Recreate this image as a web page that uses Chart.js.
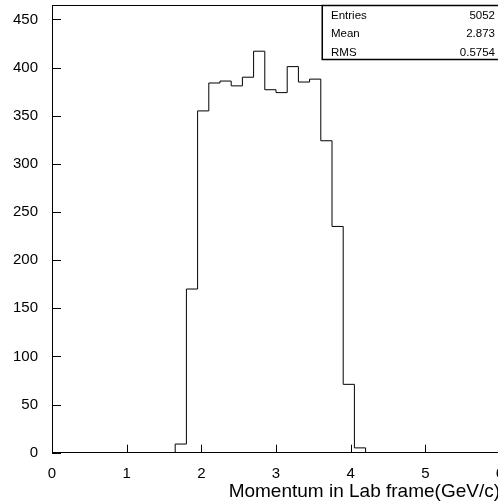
<!DOCTYPE html>
<html>
<head>
<meta charset="utf-8">
<script src="https://cdn.jsdelivr.net/npm/chart.js@4/dist/chart.umd.min.js"></script>
<style>
  html, body { margin: 0; padding: 0; background: #fff; overflow: hidden; }
  #wrap { position: absolute; left: 0; top: 0; width: 520px; height: 504px; }
</style>
</head>
<body>
<div id="wrap"><canvas id="c" width="520" height="504"></canvas></div>
<script>
// ---- data ----
const binEdges = [1.65, 1.80, 1.95, 2.10, 2.25, 2.40, 2.55, 2.70, 2.85, 3.00, 3.15, 3.30, 3.45, 3.60, 3.75, 3.90, 4.05, 4.20];
const counts   = [9, 170, 355, 384, 386, 381, 390, 417, 377, 374, 401, 385, 388, 324, 235, 71, 5];
const xTickValues = [0, 1, 2, 3, 4, 5, 6];
const yTickValues = [0, 50, 100, 150, 200, 250, 300, 350, 400, 450];
const xTitle = 'Momentum in Lab frame(GeV/c)';
const statLabels = ['Entries', 'Mean', 'RMS'];
const statValues = ['5052', '2.873', '0.5754'];

// histogram outline as stepped points
const pts = [{x: binEdges[0], y: 0}];
counts.forEach((c, i) => pts.push({x: binEdges[i], y: c}));
pts.push({x: binEdges[binEdges.length - 1], y: 0});

const FONT = "'Liberation Sans', Arial, Helvetica, sans-serif";

const frameTicks = {
  id: 'frameTicks',
  afterDatasetsDraw(chart) {
    const {ctx, chartArea: a, scales: {x, y}} = chart;
    ctx.save();
    ctx.strokeStyle = '#000';
    ctx.lineWidth = 1;
    ctx.beginPath();
    yTickValues.forEach(v => {
      const py = Math.round(y.getPixelForValue(v)) + 0.5;
      ctx.moveTo(a.left, py); ctx.lineTo(a.left + 9, py);
    });
    xTickValues.forEach(v => {
      const px = Math.round(x.getPixelForValue(v)) + 0.5;
      ctx.moveTo(px, a.bottom); ctx.lineTo(px, a.bottom - 8);
    });
    ctx.moveTo(a.left, Math.round(a.top) + 0.5); ctx.lineTo(a.right, Math.round(a.top) + 0.5);
    ctx.moveTo(Math.round(a.right) - 0.5, a.top); ctx.lineTo(Math.round(a.right) - 0.5, a.bottom);
    ctx.stroke();

    // statistics box
    const bx = 322, by = Math.round(a.top), bw = 200, bh = 54;
    ctx.fillStyle = '#fff';
    ctx.fillRect(bx, by, bw, bh);
    ctx.lineWidth = 1.5;
    ctx.strokeRect(bx + 0.25, by + 0.5, bw, bh);
    ctx.fillStyle = '#000';
    ctx.font = '11.5px ' + FONT;
    ctx.textBaseline = 'alphabetic';
    statLabels.forEach((s, i) => {
      const ty = 19 + i * 18.3;
      ctx.textAlign = 'left';
      ctx.fillText(s, 331, ty);
      ctx.textAlign = 'right';
      ctx.fillText(statValues[i], 495, ty);
    });
    ctx.restore();
  }
};

const noPad = s => { s.paddingTop = 0; s.paddingBottom = 0; s.paddingLeft = 0; s.paddingRight = 0; };

new Chart(document.getElementById('c'), {
  type: 'line',
  data: {
    datasets: [{
      data: pts,
      stepped: 'before',
      borderColor: '#000',
      borderWidth: 1,
      pointRadius: 0,
      fill: false,
      tension: 0
    }]
  },
  options: {
    responsive: false,
    animation: false,
    devicePixelRatio: 1,
    layout: { padding: { top: 5, right: 20, left: 0, bottom: 0 } },
    plugins: { legend: { display: false }, tooltip: { enabled: false } },
    scales: {
      x: {
        type: 'linear',
        min: 0, max: 6,
        afterBuildTicks: s => { s.ticks = xTickValues.map(v => ({value: v})); },
        afterFit: s => { s.height = 51.3; noPad(s); },
        grid: { display: false, drawTicks: false },
        border: { display: true, color: '#000', width: 1 },
        ticks: { color: '#000', padding: 12, maxRotation: 0, autoSkip: false,
                 font: { family: FONT, size: 15 } },
        title: { display: true, text: xTitle, align: 'end', color: '#000',
                 padding: { top: 0, bottom: 1 }, font: { family: FONT, size: 19 } }
      },
      y: {
        type: 'linear',
        min: 0, max: 465,
        afterBuildTicks: s => { s.ticks = yTickValues.map(v => ({value: v})); },
        afterFit: s => { s.width = 52; noPad(s); },
        grid: { display: false, drawTicks: false },
        border: { display: true, color: '#000', width: 1 },
        ticks: { color: '#000', padding: 14, font: { family: FONT, size: 15 } }
      }
    }
  },
  plugins: [frameTicks]
});
</script>
</body>
</html>
